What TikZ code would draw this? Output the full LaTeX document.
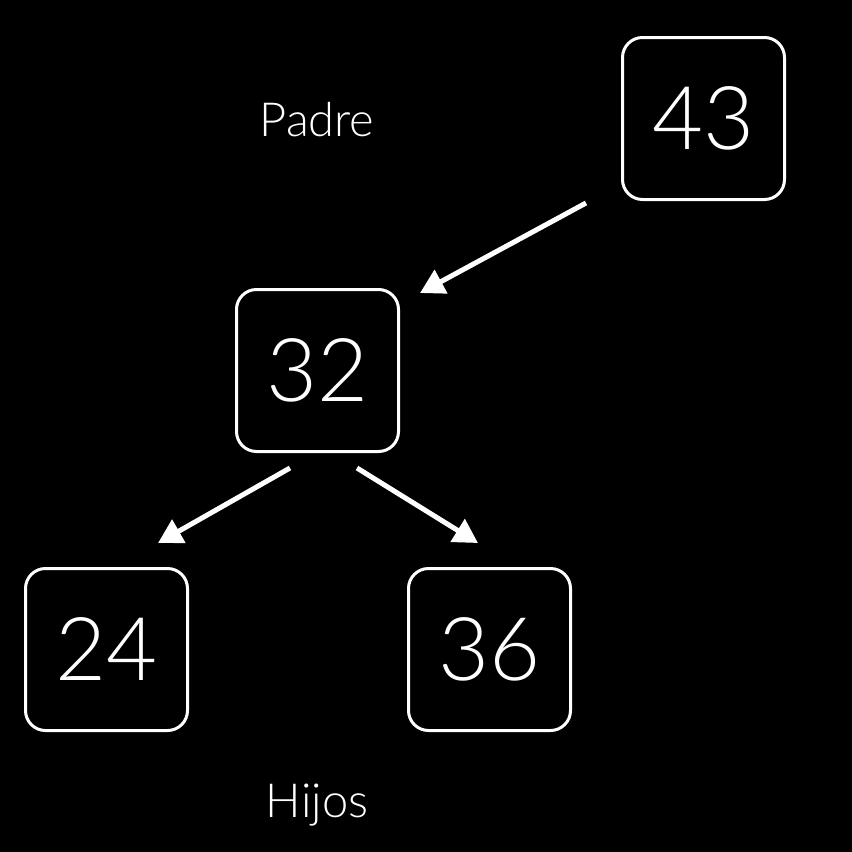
\documentclass[tikz,border=0pt]{standalone}
\usepackage{fontspec}
\setmainfont{Lato}[UprightFont=* Light]
\usetikzlibrary{arrows.meta, calc, positioning}

\tikzset{
  keybox/.style={draw=white, line width=3pt, rounded corners=20pt,
    minimum width=162pt, minimum height=162pt, inner sep=0pt,
    text=white, font=\fontsize{88}{92}\selectfont},
  lbl/.style={text=white, font=\fontsize{47}{50}\selectfont},
  link/.style={draw=white, line width=5pt, -{Triangle[length=24pt,width=26pt]}},
}

\begin{document}
\begin{tikzpicture}[x=1pt, y=-1pt]
  \fill[black] (0,0) rectangle (852,852);
  \useasboundingbox (0,0) rectangle (852,852);

  % nodos del arbol
  \node[keybox] (n43) at (703.5,118.5) {43};
  \node[keybox] (n32) at (317.5,370.5) {32};
  \node[keybox] (n24) at (106.5,649.5) {24};
  \node[keybox] (n36) at (489.5,649.5) {36};

  \node[lbl] (padre) at (317,120) {Padre};
  \node[lbl] (hijos) at (317,805) {Hijos};

  % extremos de las flechas
  \coordinate (a1s) at ($(n43.south west)+(-35,2)$);
  \coordinate (a1e) at ($(n32.north east)+(20,5)$);
  \coordinate (a2s) at ($(n32.south)+(-27.5,15)$);
  \coordinate (a2e) at ($(n24.north)+(51.5,-24)$);
  \coordinate (a3s) at ($(n32.south)+(39.5,15)$);
  \coordinate (a3e) at ($(n36.north)+(-11.5,-24)$);

  \draw[link] (a1s) -- (a1e);
  \draw[link] (a2s) -- (a2e);
  \draw[link] (a3s) -- (a3e);
\end{tikzpicture}
\end{document}
